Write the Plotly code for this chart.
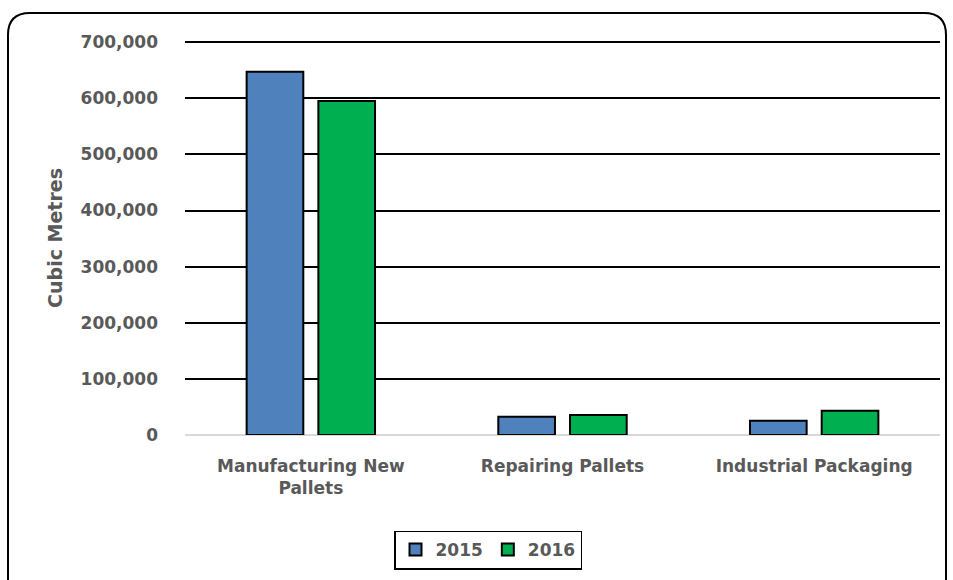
import plotly.graph_objects as go

categories = ["Manufacturing New<br>Pallets", "Repairing Pallets", "Industrial Packaging"]
years = ["2015", "2016"]
values_2015 = [647000, 32500, 25500]
values_2016 = [595000, 35500, 43000]
colors = ["#4F81BD", "#00B050"]
tick_vals = [0, 100000, 200000, 300000, 400000, 500000, 600000, 700000]

W, H = 953, 580
L, R, T, B = 185, 13, 41, 144
PW, PH = W - L - R, H - T - B
Y_MAX = 702000

FONT = "DejaVu Sans"
GREY = "#595959"


def px(x):
    return (x - L) / PW


def py(y):
    return (H - B - y) / PH


fig = go.Figure()
for name, vals, col in zip(years, [values_2015, values_2016], colors):
    fig.add_trace(go.Bar(
        x=categories, y=vals, name=name,
        marker=dict(color=col, line=dict(color="black", width=2)),
    ))

# Rounded outer frame of the chart area
x0, x1, y0, y1, r = 8, 946, 13, 640, 22
path = (
    f"M {px(x0)},{py(y1)} L {px(x0)},{py(y0 + r)} "
    f"Q {px(x0)},{py(y0)} {px(x0 + r)},{py(y0)} "
    f"L {px(x1 - r)},{py(y0)} Q {px(x1)},{py(y0)} {px(x1)},{py(y0 + r)} "
    f"L {px(x1)},{py(y1)}"
)
fig.add_shape(type="path", xref="paper", yref="paper", path=path,
              line=dict(color="black", width=2), layer="below")

fig.update_layout(
    width=W, height=H,
    margin=dict(l=L, r=R, t=T, b=B),
    paper_bgcolor="white", plot_bgcolor="white",
    barmode="group", bargap=0.43, bargroupgap=0.21,
    font=dict(family=FONT, size=17, color=GREY),
    showlegend=True,
    legend=dict(
        orientation="h", x=px(488), y=py(550), xanchor="center", yanchor="middle",
        bordercolor="black", borderwidth=1.5,
        font=dict(family=FONT, size=17, color=GREY, weight="bold"),
        itemwidth=30, tracegroupgap=0,
    ),
    xaxis=dict(
        showgrid=False, showline=False, ticks="",
        tickfont=dict(family=FONT, size=17, color=GREY, weight="bold"),
        ticklabelstandoff=19,
    ),
    yaxis=dict(
        range=[0, Y_MAX], tickvals=tick_vals,
        tickformat=",d",
        showgrid=True, gridcolor="black", gridwidth=1.5,
        zeroline=True, zerolinecolor="#D9D9D9", zerolinewidth=2,
        showline=False, ticks="",
        tickfont=dict(family=FONT, size=17, color=GREY, weight="bold"),
        ticklabelstandoff=26,
        title=dict(text="Cubic Metres", standoff=12,
                   font=dict(family=FONT, size=19, color=GREY, weight="bold")),
    ),
)

fig.write_html("out.html")
